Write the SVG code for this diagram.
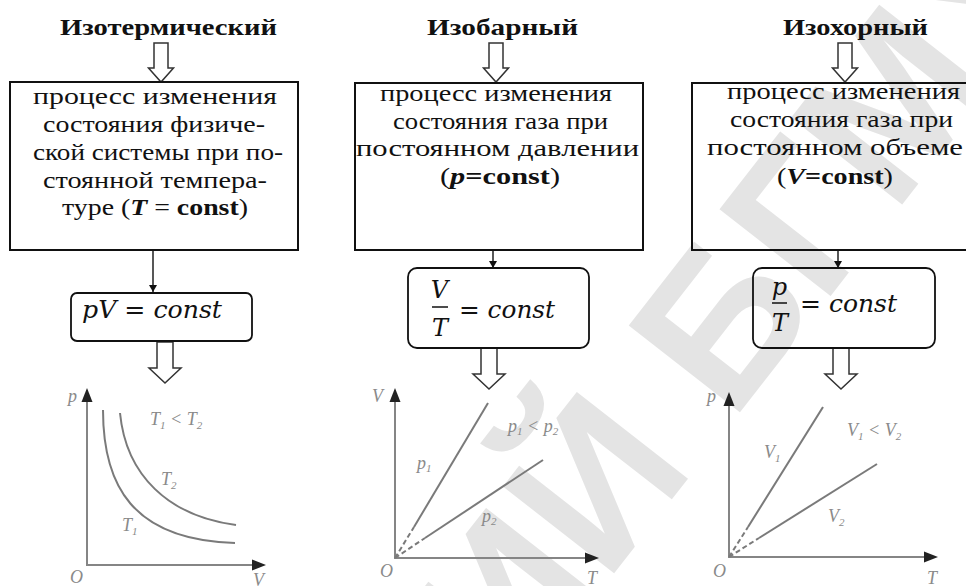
<svg xmlns="http://www.w3.org/2000/svg" xmlns:xlink="http://www.w3.org/1999/xlink" width="966" height="586" viewBox="0 0 966 586">
  <style>
    .title { font-family: "Liberation Serif", "DejaVu Serif", serif; font-weight: bold; font-size: 24px; fill: #111; }
    .body { font-family: "Liberation Serif", "DejaVu Serif", serif; font-size: 24px; fill: #111; }
    .b { font-weight: bold; }
    .bi { font-weight: bold; font-style: italic; }
    .box { fill: none; stroke: #111; stroke-width: 2; }
    .fbox { fill: none; stroke: #111; stroke-width: 1.8; }
    .math { font-family: "DejaVu Serif", serif; font-style: italic; font-size: 24px; fill: #111; }
    .hollow { fill: #fff; stroke: #333; stroke-width: 1.5; stroke-linejoin: miter; }
    .link { stroke: #111; stroke-width: 1.4; fill: none; }
    .axis { stroke: #858585; stroke-width: 2; fill: none; }
    .curve { stroke: #7a7a7a; stroke-width: 2; fill: none; }
    .dash { stroke: #7a7a7a; stroke-width: 2; fill: none; stroke-dasharray: 5 3; }
    .glab { font-family: "Liberation Serif", serif; font-style: italic; font-size: 18px; fill: #8a8a8a; }
    .sub { font-size: 11px; }
    .wm { font-family: "Liberation Sans", sans-serif; font-weight: bold; font-size: 205px; fill: #e4e4e4; }
  </style>
  <defs>
    <path id="hollowTop" d="M-7,0 H7 V25 H12.5 L0,39 L-12.5,25 H-7 Z"/>
    <path id="hollowBottom" d="M-8,0 H8 V26 H16 L0,41 L-16,26 H-8 Z"/>
    <path id="headUp" d="M0,0 L-5.5,14 L5.5,14 Z" fill="#222"/>
    <path id="headRight" d="M0,0 L-14,-5.5 L-14,5.5 Z" fill="#222"/>
    <marker id="tip" markerWidth="8" markerHeight="8" refX="7" refY="4" orient="auto" markerUnits="userSpaceOnUse">
      <path d="M0,0 L7,4 L0,8 Z" fill="#111"/>
    </marker>
  </defs>

  <!-- background watermark -->
  <g id="watermark">
    <text class="wm" transform="translate(515,700) rotate(-52)">ИЙ БГМУ</text>
  </g>

  <!-- connectors: hollow block arrows and thin arrows -->
  <g id="connectors">
    <use xlink:href="#hollowTop" class="hollow" transform="translate(161,43)"/>
    <use xlink:href="#hollowTop" class="hollow" transform="translate(496,43)"/>
    <use xlink:href="#hollowTop" class="hollow" transform="translate(845,43)"/>
    <line class="link" x1="153" y1="250" x2="153" y2="292" marker-end="url(#tip)"/>
    <line class="link" x1="493" y1="250" x2="493" y2="268" marker-end="url(#tip)"/>
    <line class="link" x1="838" y1="250" x2="838" y2="268" marker-end="url(#tip)"/>
    <use xlink:href="#hollowBottom" class="hollow" transform="translate(165,342)"/>
    <use xlink:href="#hollowBottom" class="hollow" transform="translate(489,348)"/>
    <use xlink:href="#hollowBottom" class="hollow" transform="translate(841,348)"/>
  </g>

  <!-- titles -->
  <g id="title-isothermal">
    <text class="title" x="60" y="35" textLength="217" lengthAdjust="spacingAndGlyphs">Изотермический</text>
  </g>
  <g id="title-isobaric">
    <text class="title" x="427" y="35" textLength="151" lengthAdjust="spacingAndGlyphs">Изобарный</text>
  </g>
  <g id="title-isochoric">
    <text class="title" x="783" y="35" textLength="145" lengthAdjust="spacingAndGlyphs">Изохорный</text>
  </g>

  <!-- definition boxes -->
  <g id="def-isothermal">
    <rect class="box" x="10" y="82" width="288" height="168"/>
    <text class="body" x="33" y="104" textLength="244" lengthAdjust="spacingAndGlyphs">процесс изменения</text>
    <text class="body" x="43" y="132" textLength="222" lengthAdjust="spacingAndGlyphs">состояния физиче-</text>
    <text class="body" x="33" y="160" textLength="250" lengthAdjust="spacingAndGlyphs">ской системы при по-</text>
    <text class="body" x="43" y="188" textLength="224" lengthAdjust="spacingAndGlyphs">стоянной темпера-</text>
    <text class="body" x="62" y="215" textLength="186" lengthAdjust="spacingAndGlyphs">туре (<tspan class="bi">T</tspan> = <tspan class="b">const</tspan>)</text>
  </g>
  <g id="def-isobaric">
    <rect class="box" x="355" y="83" width="288" height="167"/>
    <text class="body" x="380" y="101" textLength="232" lengthAdjust="spacingAndGlyphs">процесс изменения</text>
    <text class="body" x="393" y="129" textLength="215" lengthAdjust="spacingAndGlyphs">состояния газа при</text>
    <text class="body" x="356" y="156" textLength="283" lengthAdjust="spacingAndGlyphs">постоянном давлении</text>
    <text class="body" x="440" y="184" textLength="120" lengthAdjust="spacingAndGlyphs">(<tspan class="bi">p</tspan><tspan class="b">=const</tspan>)</text>
  </g>
  <g id="def-isochoric">
    <rect class="box" x="692" y="83" width="276" height="167"/>
    <text class="body" x="727" y="99" textLength="233" lengthAdjust="spacingAndGlyphs">процесс изменения</text>
    <text class="body" x="730" y="127" textLength="223" lengthAdjust="spacingAndGlyphs">состояния газа при</text>
    <text class="body" x="707" y="155" textLength="256" lengthAdjust="spacingAndGlyphs">постоянном объеме</text>
    <text class="body" x="777" y="184" textLength="116" lengthAdjust="spacingAndGlyphs">(<tspan class="bi">V</tspan><tspan class="b">=const</tspan>)</text>
  </g>

  <!-- law formulas -->
  <g id="law-isothermal">
    <rect class="fbox" x="71" y="293" width="181" height="48" rx="6"/>
    <text class="math" x="82" y="318" textLength="140" lengthAdjust="spacingAndGlyphs">pV = const</text>
  </g>
  <g id="law-isobaric">
    <rect class="fbox" x="408" y="268" width="181" height="80" rx="9"/>
    <text class="math" x="439.5" y="298" text-anchor="middle" font-size="22">V</text>
    <line x1="432" y1="307" x2="448" y2="307" stroke="#111" stroke-width="1.5"/>
    <text class="math" x="440" y="336" text-anchor="middle" font-size="22">T</text>
    <text class="math" x="459" y="318" textLength="96" lengthAdjust="spacingAndGlyphs">= const</text>
  </g>
  <g id="law-isochoric">
    <rect class="fbox" x="753" y="268" width="182" height="80" rx="9"/>
    <text class="math" x="779.5" y="295" text-anchor="middle" font-size="22">p</text>
    <line x1="772" y1="303" x2="787" y2="303" stroke="#111" stroke-width="1.5"/>
    <text class="math" x="780" y="331" text-anchor="middle" font-size="22">T</text>
    <text class="math" x="800" y="312" textLength="97" lengthAdjust="spacingAndGlyphs">= const</text>
  </g>

  <!-- p–V isotherms -->
  <g id="graph-isothermal">
    <path class="axis" d="M87,400 V565 H252"/>
    <use xlink:href="#headUp" x="87" y="388"/>
    <use xlink:href="#headRight" x="266" y="565"/>
    <path class="curve" d="M103,410 C103,485 132,540 235,543"/>
    <path class="curve" d="M120,413 C126,475 168,516 236,525"/>
    <text class="glab" x="68" y="402">p</text>
    <text class="glab" x="70" y="583">O</text>
    <text class="glab" x="253" y="586">V</text>
    <text class="glab" x="150" y="425">T<tspan class="sub" dy="4">1</tspan><tspan dy="-4"> &lt; T</tspan><tspan class="sub" dy="4">2</tspan></text>
    <text class="glab" x="161" y="485">T<tspan class="sub" dy="4">2</tspan></text>
    <text class="glab" x="122" y="531">T<tspan class="sub" dy="4">1</tspan></text>
  </g>

  <!-- V–T isobars -->
  <g id="graph-isobaric">
    <path class="axis" d="M395,400 V558 H585"/>
    <use xlink:href="#headUp" x="395" y="388"/>
    <use xlink:href="#headRight" x="599" y="558"/>
    <line class="dash" x1="395" y1="558" x2="414" y2="527"/>
    <line class="curve" x1="414" y1="527" x2="488" y2="403"/>
    <line class="dash" x1="395" y1="558" x2="425" y2="538"/>
    <line class="curve" x1="425" y1="538" x2="543" y2="460"/>
    <text class="glab" x="372" y="402">V</text>
    <text class="glab" x="380" y="577">O</text>
    <text class="glab" x="587" y="584">T</text>
    <text class="glab" x="508" y="432">p<tspan class="sub" dy="3">1</tspan><tspan dy="-3"> &lt; p</tspan><tspan class="sub" dy="3">2</tspan></text>
    <text class="glab" x="417" y="469">p<tspan class="sub" dy="3">1</tspan></text>
    <text class="glab" x="482" y="522">p<tspan class="sub" dy="3">2</tspan></text>
  </g>

  <!-- p–T isochores -->
  <g id="graph-isochoric">
    <path class="axis" d="M729,404 V557 H924"/>
    <use xlink:href="#headUp" x="729" y="392"/>
    <use xlink:href="#headRight" x="938" y="557"/>
    <line class="dash" x1="729" y1="557" x2="748" y2="527"/>
    <line class="curve" x1="748" y1="527" x2="823" y2="407"/>
    <line class="dash" x1="729" y1="557" x2="759" y2="538"/>
    <line class="curve" x1="759" y1="538" x2="877" y2="464"/>
    <text class="glab" x="707" y="402">p</text>
    <text class="glab" x="713" y="577">O</text>
    <text class="glab" x="927" y="584">T</text>
    <text class="glab" x="847" y="436">V<tspan class="sub" dy="4">1</tspan><tspan dy="-4"> &lt; V</tspan><tspan class="sub" dy="4">2</tspan></text>
    <text class="glab" x="764" y="458">V<tspan class="sub" dy="4">1</tspan></text>
    <text class="glab" x="828" y="522">V<tspan class="sub" dy="4">2</tspan></text>
  </g>
</svg>
